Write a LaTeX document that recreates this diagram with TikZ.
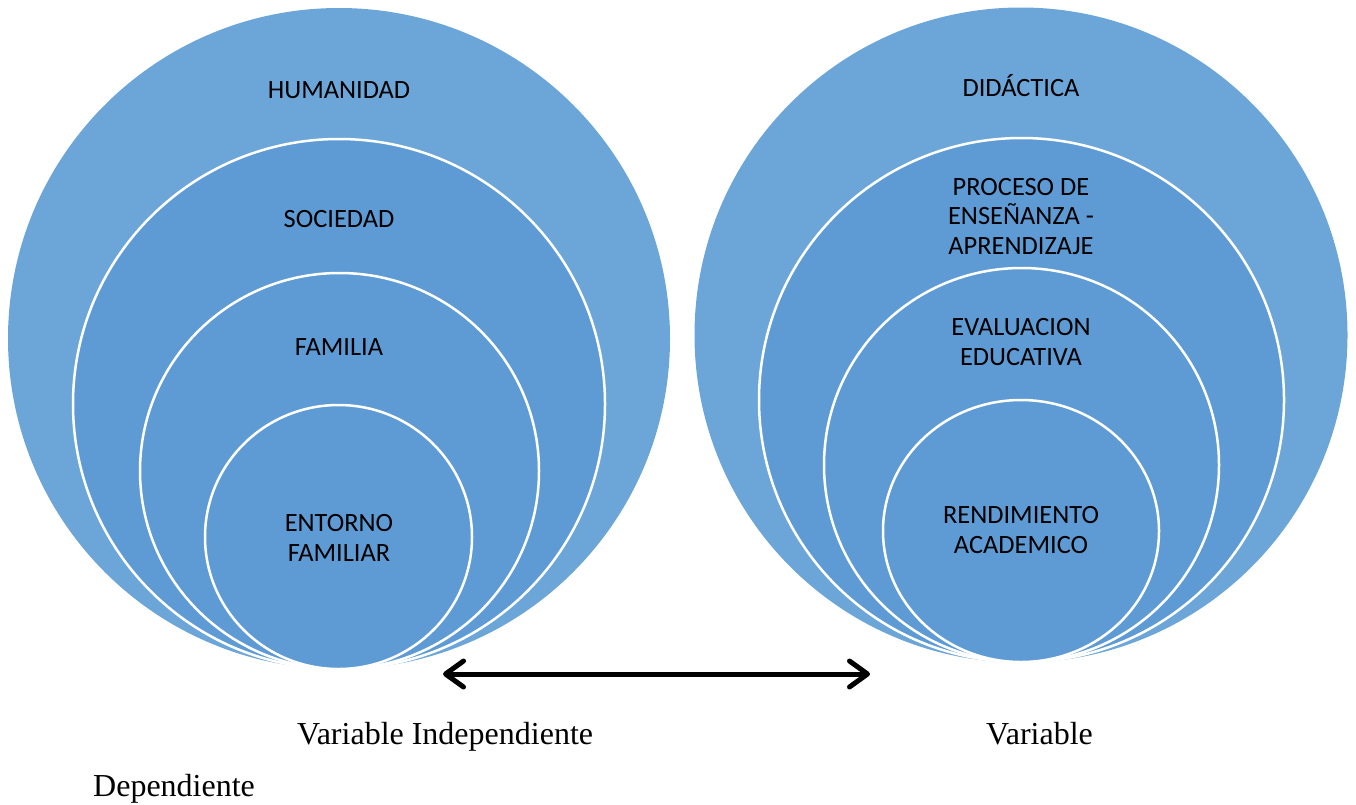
\documentclass[tikz,border=0pt]{standalone}
\usepackage{fontspec}
\setmainfont{Liberation Serif}
\newfontfamily\lblfont{Carlito}
\usetikzlibrary{arrows.meta}
\definecolor{outerblue}{RGB}{108,166,217}
\definecolor{innerblue}{RGB}{94,155,213}
\tikzset{
  ring/.style={fill=innerblue, draw=white, line width=2.5pt},
  outring/.style={fill=outerblue, draw=none},
  lbl/.style={font=\lblfont\fontsize{26.4pt}{29.5pt}\selectfont, align=center, anchor=base, inner sep=0pt, text=black},
  capt/.style={font=\fontsize{32pt}{36pt}\selectfont, anchor=base west, inner sep=0pt, text=black},
  dblarrow/.style={line width=5pt, {Straight Barb[length=18pt,width=26pt,line cap=round,line join=round]}-{Straight Barb[length=18pt,width=26pt,line cap=round,line join=round]}}
}
\begin{document}
\begin{tikzpicture}[x=1pt,y=-1pt]
\useasboundingbox (0,0) rectangle (1356,804);
% left set of circles
\fill[outring] (339,338.5) ellipse [x radius=331, y radius=330.5];
\filldraw[ring] (339,404) ellipse [x radius=266, y radius=265];
\filldraw[ring] (339.5,471) ellipse [x radius=199.5, y radius=198];
\filldraw[ring] (338.5,537) ellipse [x radius=133.5, y radius=132];
% right set of circles
\fill[outring] (1021,335) ellipse [x radius=326.5, y radius=327.5];
\filldraw[ring] (1021.5,400) ellipse [x radius=262.5, y radius=262];
\filldraw[ring] (1021.5,465) ellipse [x radius=197.5, y radius=197];
\filldraw[ring] (1021,531) ellipse [x radius=138, y radius=131];
% left labels (base = baseline of last line)
\node[lbl] (hum) at (339,98) {HUMANIDAD};
\node[lbl] (soc) at (339,227) {SOCIEDAD};
\node[lbl] (fam) at (339,355) {FAMILIA};
\node[lbl] (ent) at (339,561) {ENTORNO\\FAMILIAR};
% right labels
\node[lbl] (did) at (1021,96) {DIDÁCTICA};
\node[lbl] (pro) at (1021,254) {PROCESO DE\\ENSEÑANZA -\\APRENDIZAJE};
\node[lbl] (eva) at (1021,365) {EVALUACION\\EDUCATIVA};
\node[lbl] (ren) at (1021,553) {RENDIMIENTO\\ACADEMICO};
% arrow
\coordinate (arL) at (443,674);
\coordinate (arR) at (870,674);
\draw[dblarrow] (arL) -- (arR);
% captions
\node[capt] (vi) at (297,744) {Variable Independiente};
\node[capt] (vd) at (986,744) {Variable};
\node[capt] (dep) at (93,796) {Dependiente};
\end{tikzpicture}
\end{document}
